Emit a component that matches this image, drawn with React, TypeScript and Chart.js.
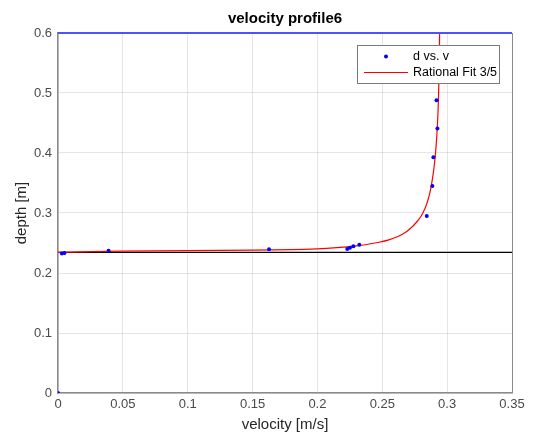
import React, { useEffect, useRef } from "react";
import { Chart, registerables } from "chart.js";

Chart.register(...registerables);

// Measured data: d vs. v
const measVelocity = [0, 0.003, 0.005, 0.039, 0.1627, 0.223, 0.2251, 0.2277, 0.2323, 0.2843, 0.2886, 0.2894, 0.2925, 0.2918];
const measDepth = [0, 0.2325, 0.2335, 0.237, 0.2395, 0.240, 0.2422, 0.2445, 0.2472, 0.295, 0.345, 0.393, 0.441, 0.488];

// Rational Fit 3/5 curve
const fitVelocity = [0, 0.05, 0.1, 0.15, 0.18, 0.2, 0.215, 0.23, 0.24, 0.2475, 0.255, 0.2625, 0.268, 0.2725, 0.2765, 0.28, 0.2828, 0.285, 0.287, 0.2886, 0.29, 0.2912, 0.2922, 0.293, 0.2937, 0.2942];
const fitDepth = [0.2345, 0.2365, 0.2372, 0.238, 0.239, 0.2402, 0.2422, 0.2452, 0.2483, 0.2512, 0.2552, 0.2612, 0.268, 0.2758, 0.285, 0.295, 0.307, 0.32, 0.337, 0.356, 0.378, 0.404, 0.435, 0.47, 0.525, 0.6];

// Horizontal reference lines
const blackLineDepth = 0.2345;
const blueLineDepth = 0.6;
const lineXRange = [0, 0.35];

const xTickLabels = ["0", "0.05", "0.1", "0.15", "0.2", "0.25", "0.3", "0.35"];
const yTickLabels = ["0", "0.1", "0.2", "0.3", "0.4", "0.5", "0.6"];

const FONT = "'Liberation Sans', Arial, Helvetica, sans-serif";

export default function App() {
  const ref = useRef<HTMLCanvasElement | null>(null);

  useEffect(() => {
    if (!ref.current) return;
    const ctx = ref.current.getContext("2d")!;

    const framePlugin = {
      id: "frame",
      afterDraw(chart: any) {
        const { ctx, chartArea } = chart;
        const { left, right, top, bottom } = chartArea;
        ctx.save();
        // right border
        ctx.strokeStyle = "#8a8a8a";
        ctx.lineWidth = 1;
        ctx.beginPath();
        ctx.moveTo(right + 0.5, top);
        ctx.lineTo(right + 0.5, bottom);
        ctx.stroke();
        // title
        ctx.fillStyle = "#000";
        ctx.font = `bold 15px ${FONT}`;
        ctx.textAlign = "center";
        ctx.textBaseline = "middle";
        ctx.fillText("velocity profile6", (left + right) / 2, 19);
        // legend
        const bx = 357, by = 45, bw = 142, bh = 38;
        ctx.fillStyle = "#fff";
        ctx.fillRect(bx, by, bw, bh);
        ctx.strokeStyle = "#7a7a7a";
        ctx.lineWidth = 1;
        ctx.strokeRect(bx + 0.5, by + 0.5, bw, bh);
        ctx.fillStyle = "#0000ff";
        ctx.beginPath();
        ctx.arc(386, 56.5, 2, 0, Math.PI * 2);
        ctx.fill();
        ctx.strokeStyle = "#ff0000";
        ctx.beginPath();
        ctx.moveTo(364, 72.5);
        ctx.lineTo(408, 72.5);
        ctx.stroke();
        ctx.fillStyle = "#000";
        ctx.font = `12.5px ${FONT}`;
        ctx.textAlign = "left";
        ctx.fillText("d vs. v", 413, 57);
        ctx.fillText("Rational Fit 3/5", 413, 73);
        ctx.restore();
      },
    };

    const chart = new Chart(ctx, {
      type: "scatter",
      data: {
        datasets: [
          {
            label: "d vs. v",
            data: measVelocity.map((v, i) => ({ x: v, y: measDepth[i] })),
            showLine: false,
            pointRadius: 2,
            pointBackgroundColor: "#0000ff",
            pointBorderWidth: 0,
            order: 1,
          },
          {
            label: "Rational Fit 3/5",
            data: fitVelocity.map((v, i) => ({ x: v, y: fitDepth[i] })),
            showLine: true,
            borderColor: "#ff0000",
            borderWidth: 1.2,
            pointRadius: 0,
            tension: 0.2,
            order: 2,
          },
          {
            label: "black",
            data: lineXRange.map((x) => ({ x, y: blackLineDepth })),
            showLine: true,
            borderColor: "#000",
            borderWidth: 1.2,
            pointRadius: 0,
            order: 3,
          },
          {
            label: "blue",
            data: lineXRange.map((x) => ({ x, y: blueLineDepth })),
            showLine: true,
            borderColor: "#5050ff",
            borderWidth: 2,
            pointRadius: 0,
            clip: 3,
            order: 0,
          },
        ] as any,
      },
      options: {
        animation: false,
        responsive: false,
        maintainAspectRatio: false,
        layout: { padding: { top: 33, right: 22, left: 0, bottom: 0 } },
        plugins: {
          legend: { display: false },
          title: { display: false },
          tooltip: { enabled: false },
        },
        scales: {
          x: {
            type: "linear",
            min: 0,
            max: 0.35,
            afterFit(scale: any) {
              scale.height = 41;
            },
            afterBuildTicks(scale: any) {
              scale.ticks = xTickLabels.map((_, i) => ({ value: i * 0.05 }));
            },
            ticks: {
              callback: (_v: any, i: number) => xTickLabels[i],
              color: "#4a4a4a",
              font: { family: FONT, size: 13 },
              padding: 4,
              maxRotation: 0,
            },
            grid: { color: "rgba(0,0,0,0.1)", drawTicks: false },
            border: { color: "#8a8a8a", width: 1.5 },
            title: {
              display: true,
              text: "velocity [m/s]",
              color: "#262626",
              font: { family: FONT, size: 15 },
              padding: { top: 0, bottom: 0 },
            },
          },
          y: {
            type: "linear",
            min: 0,
            max: 0.6,
            afterFit(scale: any) {
              scale.width = 58;
            },
            afterBuildTicks(scale: any) {
              scale.ticks = yTickLabels.map((_, i) => ({ value: i * 0.1 }));
            },
            ticks: {
              callback: (_v: any, i: number) => yTickLabels[i],
              color: "#4a4a4a",
              font: { family: FONT, size: 13 },
              padding: 6,
            },
            grid: { color: "rgba(0,0,0,0.1)", drawTicks: false },
            border: { color: "#8a8a8a", width: 1.5 },
            title: {
              display: true,
              text: "depth [m]",
              color: "#262626",
              font: { family: FONT, size: 15 },
              padding: { top: 13, bottom: 0 },
            },
          },
        },
      } as any,
      plugins: [framePlugin],
    });
    return () => chart.destroy();
  }, []);

  return (
    <div style={{ position: "fixed", left: 0, top: 0, width: 534, height: 434, background: "#fff" }}>
      <canvas ref={ref} width={534} height={434} style={{ display: "block" }} />
    </div>
  );
}
